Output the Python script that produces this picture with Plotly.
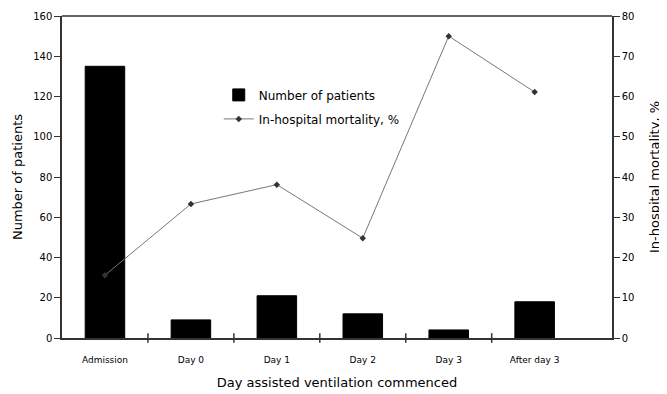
import plotly.graph_objects as go

categories = ["Admission", "Day 0", "Day 1", "Day 2", "Day 3", "After day 3"]
patients = [135, 9, 21, 12, 4, 18]
mortality = [15.6, 33.3, 38.1, 24.8, 75.0, 61.1]
left_ticks = [0, 20, 40, 60, 80, 100, 120, 140, 160]
right_ticks = [0, 10, 20, 30, 40, 50, 60, 70, 80]

xi = list(range(len(categories)))

fig = go.Figure()
fig.add_trace(go.Bar(x=xi, y=patients, name="Number of patients", legendgroup="a",
                     marker=dict(color="black", line=dict(color="black", width=1)),
                     width=0.46, yaxis="y"))
fig.add_trace(go.Scatter(x=xi, y=mortality, name="In-hospital mortality, %", legendgroup="b",
                         mode="lines+markers", yaxis="y2",
                         line=dict(color="#777777", width=1),
                         marker=dict(symbol="diamond", size=5, color="#333333")))

font = "DejaVu Sans"
fig.update_layout(
    width=659, height=386,
    margin=dict(l=54, r=55, t=8, b=56, autoexpand=False),
    paper_bgcolor="white", plot_bgcolor="white",
    font=dict(family=font, color="black", size=10),
    showlegend=True,
    legend=dict(x=0.285, y=0.80, xanchor="left", yanchor="top",
                bgcolor="rgba(0,0,0,0)", font=dict(size=12, family=font),
                tracegroupgap=5, itemwidth=30),
    xaxis=dict(range=[-0.5, 5.9], tickmode="array", tickvals=xi, ticktext=categories,
               showline=True, linecolor="#333", linewidth=1.5, showgrid=False,
               ticks="", tickfont=dict(size=9), ticklabelstandoff=12,
               title=dict(text="Day assisted ventilation commenced", font=dict(size=13), standoff=14),
               automargin=False, zeroline=False),
    yaxis=dict(range=[0, 160], tickvals=left_ticks, showline=True, linecolor="#333",
               linewidth=1.5, ticks="outside", ticklen=6, tickcolor="#333",
               showgrid=False, zeroline=False, tickfont=dict(size=10), automargin=False,
               title=dict(text="Number of patients", font=dict(size=13), standoff=8)),
    yaxis2=dict(range=[0, 80], tickvals=right_ticks, overlaying="y", side="right",
                showline=True, linecolor="#333", linewidth=1.5, ticks="outside",
                ticklen=6, tickcolor="#333", showgrid=False, zeroline=False,
                tickfont=dict(size=10), automargin=False,
                title=dict(text="In-hospital mortality, %", font=dict(size=13), standoff=16)),
)
# top border line
fig.add_shape(type="line", xref="paper", yref="paper", x0=0, x1=1, y0=1, y1=1,
              line=dict(color="#333", width=1.5))
# category separator ticks on x-axis
for k in range(1, len(categories)):
    fig.add_shape(type="line", xref="x", yref="paper", x0=k - 0.5, x1=k - 0.5,
                  y0=-0.015, y1=0.015, line=dict(color="#333", width=1.5))

fig.write_html("out.html")
